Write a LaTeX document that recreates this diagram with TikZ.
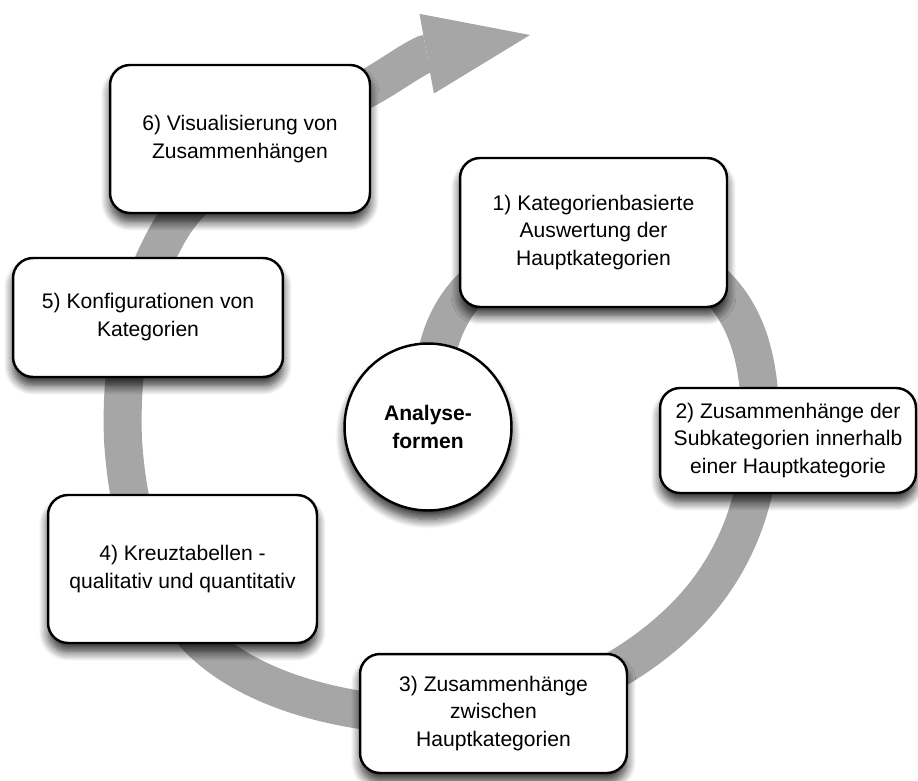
\documentclass[tikz,border=0pt]{standalone}
\usepackage{fontspec}
\setmainfont{Liberation Sans}
\usepackage{xcolor}
\usepackage{tikz}
\usetikzlibrary{arrows.meta,backgrounds,shadows.blur}
\definecolor{bandgray}{RGB}{166,166,166}
\tikzset{
  stage/.style ={rectangle,rounded corners=0.4cm,draw=black,line width=1.4pt,fill=white,
                 align=center,inner sep=4pt,font=\fontsize{12}{15.9}\selectfont,softshade},
  hub/.style   ={circle,draw=black,line width=1.4pt,fill=white,minimum size=3.34cm,inner sep=0pt,
                 align=center,font=\bfseries\fontsize{12}{15.9}\selectfont,softshade},
  softshade/.style={blur shadow={shadow xshift=0pt,shadow yshift=-0.18cm,
                 shadow blur radius=0.18cm,shadow blur steps=10,shadow opacity=80}},
  band/.style  ={draw=bandgray,line width=0.76cm,line join=round},
}

\begin{document}
\begin{tikzpicture}[x=0.02cm,y=-0.02cm]
  \useasboundingbox (0,0) rectangle (918,780);
  \node[stage,minimum width=5.2cm, minimum height=2.96cm] (s6) at (240,139)   {6) Visualisierung von\\Zusammenhängen};
  \node[stage,minimum width=5.34cm,minimum height=2.98cm] (s1) at (593.5,232.5) {1) Kategorienbasierte\\Auswertung der\\Hauptkategorien};
  \node[stage,minimum width=5.4cm, minimum height=2.38cm] (s5) at (148,317.5) {5) Konfigurationen von\\Kategorien};
  \node[hub] (hub) at (428,427) {Analyse-\\formen};
  \node[stage,minimum width=5.12cm,minimum height=2.1cm]  (s2) at (788,440.5) {2) Zusammenhänge der\\Subkategorien innerhalb\\einer Hauptkategorie};
  \node[stage,minimum width=5.38cm,minimum height=2.96cm] (s4) at (182.5,569) {4) Kreuztabellen -\\qualitativ und quantitativ};
  \node[stage,minimum width=5.34cm,minimum height=2.38cm] (s3) at (493.5,713.5) {3) Zusammenhänge\\zwischen\\Hauptkategorien};
  % spiral behind the boxes
  \begin{scope}[on background layer]
    \draw[band,-{Triangle[length=2.1cm,width=1.62cm,line width=0pt]}]
      (432,400) .. controls (432,290) and (500,245) .. (600,245)
      .. controls (690,245) and (745,290) .. (757,375)
      .. controls (770,460) and (750,540) .. (700,600)
      .. controls (660,648) and (580,705) .. (480,714)
      .. controls (380,723) and (260,700) .. (200,640)
      .. controls (150,590) and (128,520) .. (123,440)
      .. controls (120,360) and (135,290) .. (170,230)
      .. controls (205,170) and (300,124) .. (368,88)
      .. controls (390,76) and (408,62) .. (425,54)
      -- (530,35);
  \end{scope}
\end{tikzpicture}
\end{document}
